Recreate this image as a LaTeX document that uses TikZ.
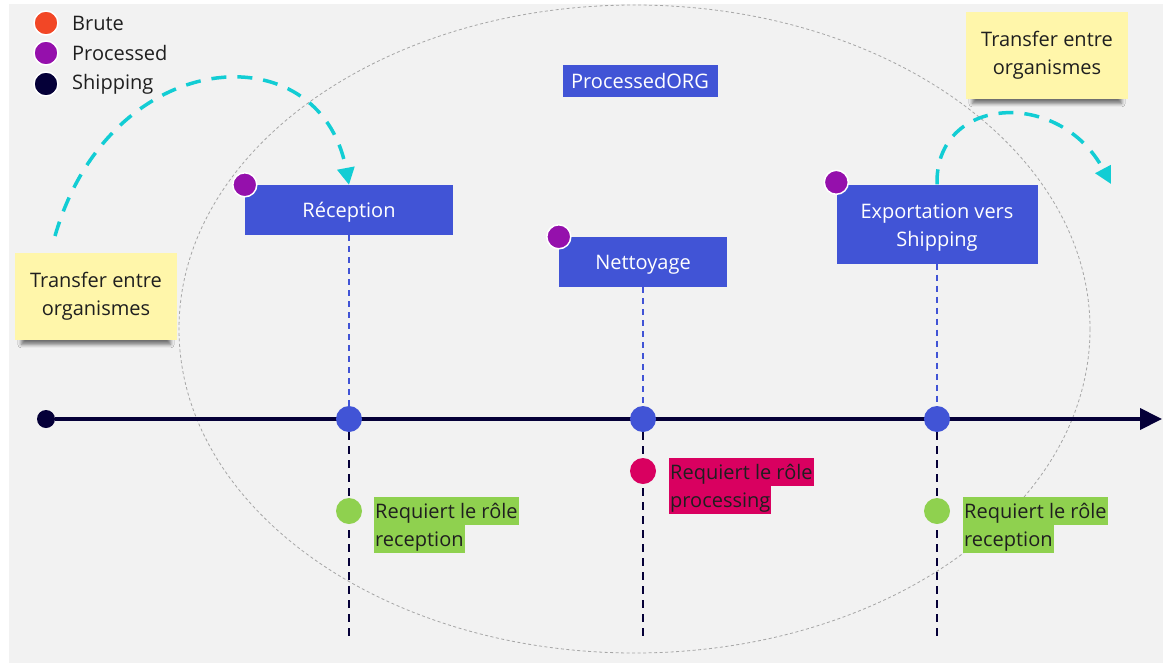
\documentclass[tikz,border=0pt]{standalone}
\usepackage{fontspec}
\setmainfont{Open Sans}
\usetikzlibrary{arrows.meta,positioning,shadows.blur}

\definecolor{canvas}{HTML}{F2F2F2}
\definecolor{stepblue}{HTML}{4154D6}
\definecolor{procpurple}{HTML}{9510AC}
\definecolor{shipnavy}{HTML}{050038}
\definecolor{bruteorange}{HTML}{F24726}
\definecolor{rolegreen}{HTML}{8FD14F}
\definecolor{rolered}{HTML}{D90060}
\definecolor{stickyyellow}{HTML}{FFF6AA}
\definecolor{flowcyan}{HTML}{12CDD4}
\definecolor{inkgray}{HTML}{1F1F1F}

\tikzset{
  stepbox/.style={fill=stepblue, text=white, align=center, inner sep=0pt, minimum height=50pt,
    text height=17pt, text depth=2pt},
  dot/.style={circle, inner sep=0pt, minimum size=#1},
  legenddot/.style={dot=24pt, draw=white, line width=1.5pt},
  legendtext/.style={anchor=west, text=inkgray, inner sep=0pt},
  sticky/.style={fill=stickyyellow, text=inkgray, align=center, minimum width=162pt, minimum height=87pt,
    blur shadow={shadow xshift=0pt, shadow yshift=-9pt, shadow blur radius=4pt, shadow opacity=55, shadow scale=0.92}},
  roletag/.style={anchor=west, inner xsep=1pt, inner ysep=0pt, text height=17pt, text depth=3pt,
    minimum height=28pt, text=inkgray},
  upline/.style={draw=stepblue, line width=1.2pt, dash pattern=on 6pt off 5pt},
  downline/.style={draw=shipnavy, line width=1.8pt, dash pattern=on 8pt off 6pt},
  transfer/.style={draw=flowcyan, line width=3.5pt, dash pattern=on 15pt off 11pt,
    -{Triangle[length=17pt,width=17pt]}},
}

\begin{document}
\begin{tikzpicture}[x=1pt,y=-1pt,font=\fontsize{20}{28}\selectfont]
  \useasboundingbox (0,0) rectangle (1163,667);
  \fill[white] (0,0) rectangle (1163,667);
  \fill[canvas] (9,4) rectangle (1163,663);

  % scope of the organisation
  \draw[gray!70, line width=0.8pt, dash pattern=on 3pt off 2.5pt] (634.5,329) ellipse [x radius=455.5, y radius=324];
  \node[fill=stepblue, text=white, minimum width=155pt, minimum height=32pt, inner sep=0pt] (org) at (640,81) {ProcessedORG};

  % legend
  \node[legenddot, fill=bruteorange] (lbrute) at (46,23) {};
  \node[legenddot, fill=procpurple] (lproc) at (46,53) {};
  \node[legenddot, fill=shipnavy] (lship) at (46,84) {};
  \node[legendtext] at (72,23) {Brute};
  \node[legendtext] at (72,53) {Processed};
  \node[legendtext] at (72,84) {Shipping};

  % sticky notes
  \node[sticky] (noteleft) at (96,296) {Transfer entre\\organismes};
  \node[sticky] (noteright) at (1047,55) {Transfer entre\\organismes};

  % steps
  \node[stepbox, minimum width=208pt] (recep) at (349,210) {Réception};
  \node[stepbox, minimum width=168pt] (netto) at (643,262) {Nettoyage};
  \node[stepbox, minimum width=201pt, minimum height=79pt, text height=45pt, text depth=1pt] (export) at (937,224) {Exportation vers\\Shipping};

  % timeline
  \node[dot=18pt, fill=shipnavy] (start) at (46,419) {};
  \coordinate (end) at (1162,419);
  \draw[shipnavy, line width=4pt, -{Triangle[length=22pt,width=21pt]}] (start) -- (end);

  \node[dot=26pt, fill=stepblue] (trecep) at (349,419) {};
  \node[dot=26pt, fill=stepblue] (tnetto) at (643,419) {};
  \node[dot=26pt, fill=stepblue] (texport) at (937,419) {};

  \coordinate (brecep) at (349,641);
  \coordinate (bnetto) at (643,641);
  \coordinate (bexport) at (937,641);
  \draw[upline] (recep) -- (trecep);
  \draw[upline] (netto) -- (tnetto);
  \draw[upline] (export) -- (texport);
  \draw[downline] (trecep) -- (brecep);
  \draw[downline] (tnetto) -- (bnetto);
  \draw[downline] (texport) -- (bexport);

  % roles
  \node[dot=26pt, fill=rolegreen] (rrecep) at (349,511) {};
  \node[dot=26pt, fill=rolered] (rnetto) at (643,471) {};
  \node[dot=26pt, fill=rolegreen] (rexport) at (937,511) {};
  \node[roletag, fill=rolegreen] (rrecepa) at (374,511) {Requiert le rôle};
  \node[roletag, fill=rolegreen] (rrecepb) at (374,539) {reception};
  \node[roletag, fill=rolered] (rnettoa) at (669,472) {Requiert le rôle};
  \node[roletag, fill=rolered] (rnettob) at (669,500) {processing};
  \node[roletag, fill=rolegreen] (rexporta) at (963,511) {Requiert le rôle};
  \node[roletag, fill=rolegreen] (rexportb) at (963,539) {reception};

  % processed markers
  \node[dot=24pt, fill=procpurple, draw=white, line width=1.5pt] (precep) at (recep.north west) {};
  \node[dot=24pt, fill=procpurple, draw=white, line width=1.5pt] (pnetto) at (netto.north west) {};
  \node[dot=24pt, fill=procpurple, draw=white, line width=1.5pt] (pexport) at ([yshift=2pt]export.north west) {};

  % transfers between organisations
  \coordinate (inflow) at (55,236);
  \coordinate (outflow) at (1111,184);
  \draw[transfer] (inflow) .. controls (110,45) and (320,30) .. (recep.north);
  \draw[transfer] (export.north) .. controls (935,95) and (1060,88) .. (outflow);
\end{tikzpicture}
\end{document}
